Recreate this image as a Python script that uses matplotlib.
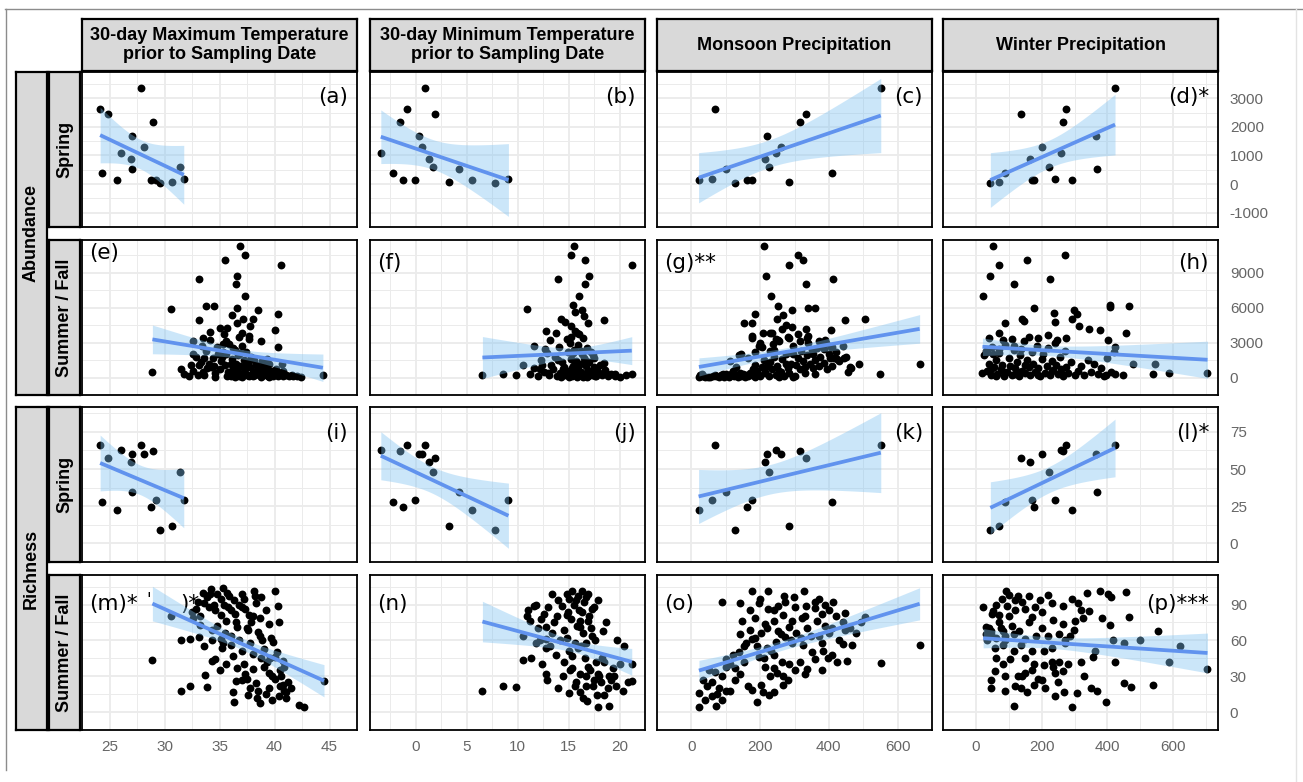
import numpy as np
import matplotlib
matplotlib.use("Agg")
import matplotlib.pyplot as plt
from matplotlib.lines import Line2D

# ---------------- data ----------------
# Spring observations (shared by all spring panels)
spring_maxT = [24.15, 24.86, 27.88, 28.93, 27.06, 28.15, 26.05, 26.97, 24.36, 25.64, 27.03, 28.76, 29.24, 29.58, 30.7, 31.44, 31.75]
spring_minT = [-0.84, 1.91, 0.89, -1.49, 0.35, 0.59, -3.42, 1.30, -2.19, 5.48, 4.29, -1.2, -0.02, 7.78, 3.27, 1.71, 9.1]
spring_monsoon = [69.5, 334, 551, 315, 221, 259.5, 245, 214, 409, 21, 100, 162, 176, 126, 284, 226, 59]
spring_winter = [272.5, 137.6, 423, 265.7, 364, 200.6, 257.6, 163, 90, 290.7, 368.6, 176.4, 172, 44, 69, 221, 240.5]
spring_abund = [2636, 2455, 3367, 2188, 1680, 1285, 1095, 860, 391, 140, 545, 145, 145, 30, 80, 590, 168]
spring_rich = [66.1, 57.1, 66.4, 62.4, 60.3, 60.1, 63.1, 54.4, 27.5, 22.6, 34.5, 24.4, 29.4, 8.7, 11.7, 48.0, 29.4]

# Summer / Fall panels: (x, y) pairs
summer_abund_maxT = [
    (36.9, 11330), (37.3, 10530), (35.5, 10080), (40.6, 9620), (33.1, 8470), (36.6, 8740), (36.5, 8020), (37.3, 7000),
    (30.6, 5880), (33.8, 6150), (34.5, 6120), (36.6, 5990), (36.1, 5400), (38.5, 5800), (40.3, 5480), (33.1, 4920),
    (37.1, 5000), (38.0, 5000), (34.1, 3930), (35.0, 4250), (35.7, 4250), (36.6, 4650), (37.8, 4460), (37.0, 3790),
    (40.0, 4060), (33.5, 3390), (37.7, 3530), (38.8, 3130), (32.6, 3130), (35.6, 3130), (40.3, 2590), (28.9, 510),
    (31.5, 720), (32.4, 1040), (32.6, 2060), (33.6, 1660), (33.1, 1070), (33.9, 850), (44.4, 190), (42.4, 50),
    (41.7, 110), (40.7, 1120), (40.8, 590),
    (31.8, 300), (32.2, 150), (32.6, 600), (33.0, 250), (33.3, 1300), (33.5, 450), (33.8, 2300), (34.0, 1200),
    (34.2, 900), (34.4, 1700), (34.6, 350), (34.8, 2600), (35.0, 700), (35.1, 1400), (35.3, 2200), (35.5, 1100),
    (34.5, 1000), (35.2, 1800), (35.4, 3700), (33.6, 200), (34.6, 80), (32.9, 1800), (33.4, 2700), (34.1, 3200),
    (34.9, 2000), (35.3, 2900),
    (35.6, 2000), (35.8, 500), (35.9, 2900), (36.0, 90), (36.1, 1600), (36.2, 800), (36.3, 300), (36.4, 2400),
    (36.5, 1200), (36.6, 600), (36.7, 1900), (36.8, 150), (36.9, 1000), (37.0, 2700), (37.1, 400), (37.2, 1500),
    (37.3, 700), (37.4, 2200), (37.5, 250), (37.6, 1300), (37.7, 100), (37.8, 900), (37.9, 1800), (38.0, 450),
    (38.1, 1500), (38.2, 200), (38.3, 1100), (38.4, 650), (36.2, 2500), (37.7, 3300), (36.8, 3500), (36.4, 50),
    (35.7, 150), (37.0, 60), (38.0, 120), (36.0, 1200), (36.6, 300), (37.2, 500), (37.6, 200), (38.3, 400),
    (36.9, 2100), (37.4, 1100),
    (38.5, 900), (38.6, 350), (38.7, 700), (38.8, 80), (38.9, 500), (39.0, 1000), (39.1, 300), (39.2, 500),
    (39.3, 700), (39.4, 150), (39.5, 1200), (39.6, 400), (39.7, 250), (39.8, 600), (39.9, 100), (40.0, 450),
    (40.2, 300), (40.4, 200), (40.6, 350), (40.8, 150), (41.0, 250), (41.3, 100), (41.6, 250), (42.0, 120),
    (39.0, 200), (39.5, 60), (40.3, 90), (40.1, 700), (39.3, 1600), (38.9, 1400),
]

summer_abund_minT = [
    (15.58, 11330), (15.26, 10530), (16.57, 10080), (21.2, 9620), (14.0, 8470), (17.0, 8740), (16.6, 8020), (16.07, 7000),
    (10.94, 5880), (15.46, 6200), (15.66, 5610), (16.3, 5800), (16.5, 5260), (18.5, 4940), (14.23, 5000), (14.64, 4730),
    (15.26, 4460), (16.9, 4680), (12.8, 3980), (13.2, 3260), (13.8, 3790), (15.87, 3790), (16.4, 3390), (11.6, 2730),
    (10.5, 1070), (6.55, 190), (8.57, 270), (9.84, 190), (21.2, 270), (19.56, 320), (18.5, 1260), (17.5, 1710),
    (12.7, 2460), (12.4, 1070),
    (11.2, 300), (11.6, 800), (12.0, 150), (12.3, 1500), (12.6, 500), (12.9, 2100), (13.1, 250), (13.3, 1100),
    (13.5, 700), (13.7, 1800), (13.9, 120), (14.1, 2600), (14.2, 400), (14.4, 1300), (14.6, 900), (14.7, 200),
    (14.9, 2200), (15.0, 600), (15.1, 3000), (15.2, 1600), (15.3, 100), (15.4, 1000), (15.5, 2400), (15.6, 350),
    (15.7, 1400), (15.8, 750), (15.9, 2800), (16.0, 180), (16.1, 1200), (16.2, 500), (16.3, 2000), (16.4, 80),
    (16.5, 1700), (16.6, 300), (16.7, 950), (16.8, 2500), (16.9, 150), (17.0, 1300), (17.1, 600), (17.2, 2200),
    (17.3, 250), (17.5, 900), (17.7, 100), (17.9, 450), (18.1, 1100), (18.3, 200), (18.6, 650), (18.9, 120),
    (19.2, 300), (19.6, 150), (20.0, 80), (15.2, 3500), (15.6, 4000), (14.8, 3300), (16.0, 3700), (15.0, 50),
    (15.8, 60), (16.8, 70), (14.3, 60), (17.6, 90), (13.0, 400), (14.0, 1500), (16.2, 2300), (17.4, 1900),
    (15.4, 2100), (16.6, 1500), (14.5, 700), (15.9, 900), (17.8, 600), (18.8, 300), (12.2, 700), (20.6, 200),
    (14.9, 350), (15.3, 800), (16.1, 450), (16.9, 600), (15.6, 1100), (14.4, 250), (17.2, 350), (15.9, 150),
]

summer_abund_monsoon = [
    (211, 11330), (309, 10530), (326, 10080), (284, 9620), (218, 8740), (411, 8470), (333, 8020), (232, 7000),
    (252, 6150), (292, 5800), (339, 5930), (359, 5930), (184, 5450), (267, 5400), (249, 5000), (154, 4680),
    (175, 4680), (275, 4520), (294, 4330), (447, 4920), (504, 5000), (407, 4120), (333, 4200), (175, 3530),
    (208, 3790), (235, 3790), (197, 2730), (238, 2860), (251, 3210), (283, 3390), (316, 3130), (337, 3390),
    (370, 3130), (393, 2990), (386, 2460), (410, 2590), (143, 2060), (111, 1390), (138, 1920), (165, 1660),
    (353, 2060), (402, 1660), (424, 1600), (445, 1660), (456, 510), (488, 1120), (550, 270), (664, 1180),
    (465, 850),
    (22, 50), (28, 120), (35, 110), (40, 20), (48, 50), (55, 30), (62, 130), (68, 200), (73, 110), (80, 40),
    (87, 190), (93, 300), (100, 270), (106, 90), (110, 80), (116, 320), (122, 180), (125, 100), (130, 250),
    (135, 60), (140, 400), (145, 150), (150, 300), (25, 190), (30, 270), (95, 60), (155, 80), (160, 220),
    (165, 120), (170, 350), (120, 600), (130, 900),
    (175, 200), (180, 700), (185, 1100), (190, 600), (195, 300), (200, 150), (205, 900), (210, 1500),
    (215, 400), (220, 1000), (225, 100), (230, 1300), (235, 700), (240, 1800), (245, 250), (250, 1000),
    (255, 600), (260, 500), (265, 1600), (270, 150), (275, 1200), (280, 800), (285, 350), (290, 1200),
    (295, 2000), (300, 100), (185, 2200), (205, 2600), (240, 2400), (255, 3100), (275, 2000), (295, 2700),
    (215, 500), (255, 50), (185, 80), (295, 60), (200, 3000), (230, 2300),
    (305, 1100), (310, 1700), (315, 700), (320, 2300), (325, 1400), (330, 900), (335, 1900), (340, 3000),
    (345, 1150), (350, 2400), (355, 800), (360, 1500), (365, 2500), (370, 950), (375, 1800), (380, 2800),
    (385, 1250), (390, 3200), (395, 700), (400, 2000), (405, 2600), (410, 1000), (415, 1650), (420, 2200),
    (430, 1400), (440, 2700), (450, 1750), (460, 900), (310, 3700), (340, 3600), (280, 3500), (265, 4200),
    (245, 3300), (230, 3800), (175, 3400), (330, 400), (360, 300),
]

summer_abund_winter = [
    (52, 11330), (70, 9620), (44, 8740), (156, 10080), (270, 10530), (115, 8020), (226, 8470), (22, 7000),
    (178, 5930), (90, 4700), (140, 5050), (147, 4860), (238, 5530), (298, 5800), (307, 5450), (407, 6070),
    (409, 6200), (464, 6120), (241, 4730), (291, 5050), (313, 4460), (343, 4200), (378, 4060), (456, 3850),
    (401, 3260), (424, 2590), (218, 3660), (190, 3390), (247, 3260), (275, 3390), (81, 3260), (70, 2460),
    (35, 2190), (53, 2060), (115, 2730), (138, 2460), (479, 1120), (544, 1120), (587, 370), (704, 370),
    (538, 270), (447, 190), (424, 320), (395, 190),
    (25, 1900), (30, 2300), (35, 600), (40, 1200), (45, 200), (50, 2600), (55, 900), (60, 1500),
    (65, 300), (70, 2100), (75, 700), (80, 1100), (85, 150), (90, 2800), (95, 500), (100, 1700),
    (105, 1000), (110, 250), (115, 2400), (120, 800), (125, 1300), (130, 100), (135, 1900), (140, 600),
    (145, 3100), (150, 350), (155, 1500), (160, 900), (165, 200), (170, 2200), (175, 1200), (180, 450),
    (185, 2700), (190, 800), (195, 150), (200, 1600), (205, 2000), (210, 400), (215, 1000), (220, 2500),
    (225, 250), (230, 1400), (235, 650), (240, 3000), (245, 1100), (250, 300), (255, 1800), (260, 700),
    (265, 150), (270, 2300), (275, 900), (280, 400), (290, 1300), (300, 200), (310, 600), (320, 1000),
    (330, 250), (340, 1500), (350, 500), (360, 1200), (370, 300), (380, 800), (390, 150), (400, 1700),
    (410, 450), (420, 2200), (40, 3400), (70, 3800), (110, 3300), (160, 3500), (60, 150), (20, 400),
    (45, 700), (85, 450), (120, 300), (150, 1100), (190, 250), (230, 600), (260, 350), (130, 500),
]

summer_rich_maxT = [
    (28.9, 43.3), (30.6, 80.7), (31.5, 60.1), (32.3, 61.4), (33.1, 62.6), (31.5, 18.0), (32.3, 22.2), (33.9, 21.2),
    (33.7, 30.9), (34.1, 98.5), (35.7, 99.7), (38.1, 101), (40.0, 101), (40.4, 75.0), (40.3, 89.1), (36.3, 8.1),
    (36.2, 16.8), (37.0, 26.7), (37.8, 20.5), (42.2, 5.7), (42.7, 4.4), (44.5, 26.2), (40.0, 46.5), (40.8, 42.8),
    (40.5, 35.4), (40.4, 13.1), (41.0, 16.8), (40.8, 23.0), (40.0, 27.9), (39.5, 32.9), (38.3, 24.2), (37.3, 31.7),
    (36.6, 36.6), (35.6, 40.3), (34.6, 44.0), (34.3, 42.8), (35.2, 53.9), (36.0, 56.4), (37.0, 51.5), (38.0, 49.0),
    (39.0, 52.7), (39.9, 58.9), (38.7, 63.8), (37.6, 68.8), (36.6, 71.3), (35.6, 76.2), (35.1, 81.1), (33.6, 91.1),
    (32.9, 86.1), (32.6, 78.7), (34.3, 68.8), (33.2, 72.5), (37.3, 86.1), (38.3, 91.1), (38.8, 96.0), (36.3, 93.5),
    (35.1, 94.8), (37.0, 98.5), (37.7, 81.1), (38.7, 78.7), (39.5, 73.7), (36.0, 63.8), (35.1, 61.4), (33.6, 55.2),
    (34.3, 60.1),
    (36.0, 85), (37.0, 88), (38.0, 80), (36.5, 75), (37.5, 70), (38.5, 67), (35.5, 66), (36.8, 60), (37.8, 58),
    (38.8, 45), (36.2, 47), (37.2, 40), (38.0, 36), (39.0, 38), (37.5, 28), (38.5, 18), (39.5, 20), (36.8, 90),
    (35.8, 88), (37.2, 95), (38.2, 97), (39.2, 85), (34.8, 72), (35.3, 58), (39.7, 62), (40.2, 50), (40.6, 30),
    (41.2, 25), (40.9, 18), (41.5, 20), (34.5, 90), (35.9, 97), (36.4, 82), (37.9, 75), (38.9, 60), (39.3, 42),
    (35.0, 35), (36.5, 26), (37.6, 14), (38.4, 12), (39.8, 10),
    (33.5, 100), (34.2, 103), (34.8, 99), (35.3, 104), (33.9, 96), (33.0, 92), (34.0, 88), (32.5, 84),
    (33.2, 80), (34.6, 85), (35.4, 90), (39.8, 30), (40.5, 22), (41.0, 12), (39.2, 15), (38.7, 8),
    (39.6, 45), (40.9, 38),
]

summer_rich_minT = [
    (6.55, 18.0), (8.57, 22.2), (9.84, 21.3), (10.5, 43.3), (11.35, 45.3), (10.9, 80.7), (11.6, 88.6), (11.2, 76.2),
    (12.8, 71.2), (13.4, 98.5), (14.0, 93.5), (15.3, 101), (16.3, 101), (17.9, 93.5), (21.2, 40.3), (21.2, 26.2),
    (19.7, 21.7), (18.5, 14.3), (17.9, 4.4), (19.0, 4.9), (16.8, 9.4), (16.1, 16.8), (15.0, 15.6), (14.0, 20.5),
    (12.9, 26.7), (12.8, 31.7), (12.4, 40.3), (11.8, 57.6), (10.5, 63.8), (12.8, 61.4), (14.2, 60.1), (14.6, 41.5),
    (15.3, 36.6), (16.1, 31.7), (16.9, 37.8), (17.7, 41.5), (18.5, 41.5), (19.4, 36.6), (19.0, 30.4), (17.5, 26.7),
    (16.7, 21.7), (15.7, 25.5), (15.05, 51.4), (15.9, 53.9), (16.7, 57.6), (17.3, 63.8), (14.6, 68.8), (16.1, 71.2),
    (16.9, 76.2), (14.8, 81.1), (16.3, 83.6), (17.3, 86.1), (14.4, 88.6), (15.7, 93.5), (16.7, 96.0), (14.8, 98.5),
    (13.4, 66.3), (12.8, 53.9), (12.2, 60.1),
    (15.0, 95), (15.5, 90), (16.0, 85), (16.5, 92), (17.0, 80), (15.2, 78), (15.8, 72), (16.4, 66), (17.2, 70),
    (14.8, 62), (15.6, 58), (16.2, 55), (17.6, 60), (15.3, 47), (16.6, 45), (17.1, 35), (18.0, 30), (18.2, 25),
    (17.8, 14), (16.4, 12), (15.6, 22), (14.5, 30), (13.8, 48), (13.2, 55), (16.9, 99), (15.9, 97), (14.9, 84),
    (17.5, 88), (16.1, 76), (18.3, 45), (19.2, 27), (20.3, 18), (16.7, 30), (15.1, 35), (17.4, 22),
    (11.0, 85), (11.8, 90), (12.3, 78), (12.0, 70), (12.6, 82), (13.0, 88), (13.6, 75), (13.9, 80),
    (19.5, 30), (20.0, 40), (20.8, 25), (18.9, 20), (17.9, 32),
    (19.8, 60), (18.7, 75), (20.4, 55), (18.4, 68),
]

summer_rich_monsoon = [
    (22, 4.4), (22, 15.6), (33, 26.7), (44, 21.7), (59, 13.1), (73, 5.2), (70, 33.6), (89, 30.4),
    (80, 19.8), (100, 17.3), (113, 17.5), (113, 40.3), (100, 37.8), (127, 36.6), (127, 26.7), (141, 32.1),
    (152, 41.5), (138, 50.2), (152, 55.2), (175, 61.4), (165, 21.7), (175, 18.8), (192, 8.1), (202, 23.0),
    (208, 16.8), (227, 14.3), (240, 16.8), (267, 23.0), (89, 91.8), (141, 91.1), (146, 76.2), (175, 101),
    (224, 101), (329, 101), (411, 92.3), (447, 83.1), (494, 75.0), (504, 79.2), (447, 68.3), (467, 55.9),
    (440, 56.9), (400, 66.3), (397, 45.3), (424, 42.0), (454, 42.8), (380, 35.4), (335, 36.1), (316, 41.5),
    (283, 40.3), (384, 51.4), (553, 40.8), (664, 55.9), (267, 30.4), (240, 36.6), (213, 37.8), (197, 46.5),
    (219, 53.9), (246, 58.9), (272, 62.6), (305, 66.3), (337, 70.0), (364, 76.2), (380, 82.4), (359, 87.3),
    (332, 88.6), (299, 96.0), (272, 92.3), (251, 88.6), (224, 86.1), (197, 91.1), (186, 78.7), (213, 73.7),
    (240, 76.2), (267, 81.1), (294, 76.2), (321, 78.7), (283, 71.2), (251, 67.5), (202, 66.3), (170, 68.8),
    (294, 57.6), (326, 56.4), (348, 63.8), (370, 63.8), (231, 51.4),
    (200, 95), (240, 85), (270, 97), (300, 88), (330, 80), (360, 92), (390, 72), (220, 70), (260, 65),
    (290, 60), (320, 62), (350, 50), (380, 58), (410, 48), (190, 55), (210, 45), (240, 48), (265, 42),
    (300, 35), (330, 32), (360, 44), (250, 33), (280, 27), (230, 30), (185, 62), (160, 58), (140, 65),
    (120, 48), (100, 44), (170, 85),
    (420, 80), (440, 75), (460, 70), (480, 66), (400, 85), (430, 60), (410, 70), (390, 90), (370, 95),
    (40, 10), (60, 25), (50, 35), (75, 15), (90, 10),
]

summer_rich_winter = [
    (22, 88.1), (115, 5.2), (292, 4.4), (395, 8.1), (449, 24.2), (472, 21.3), (538, 23.0), (587, 42.0),
    (704, 36.1), (553, 68.0), (464, 79.4), (456, 100.2), (378, 101), (338, 99.7), (412, 96.0), (401, 98.5),
    (369, 18.0), (350, 20.5), (241, 13.1), (267, 16.8), (307, 15.6), (330, 30.4), (319, 41.5), (355, 46.5),
    (361, 51.4), (424, 41.5), (418, 60.1), (407, 72.5), (382, 78.7), (327, 78.7), (344, 84.9), (310, 91.1),
    (292, 94.8), (264, 88.6), (230, 91.1), (195, 93.5), (161, 97.2), (127, 97.2), (92, 101), (53, 84.9),
    (70, 81.1), (95, 88.6), (120, 93.5), (150, 86.1), (172, 79.9), (201, 83.6), (235, 77.4), (264, 73.7),
    (298, 68.8), (252, 65.1), (218, 63.8), (184, 63.8), (150, 61.4), (115, 65.1), (81, 67.5), (47, 65.1),
    (30, 71.3), (58, 53.9), (81, 56.4), (115, 51.4), (138, 56.4), (104, 44.0), (81, 40.3), (58, 34.1),
    (47, 26.7), (45, 20.5), (87, 18.0), (138, 20.5), (155, 16.8), (178, 23.0), (201, 26.7), (127, 30.4),
    (150, 32.9), (178, 40.3), (207, 39.1), (235, 37.8), (252, 41.5), (264, 34.1), (241, 32.9), (281, 40.3),
    (172, 51.4), (207, 51.4), (230, 53.9), (270, 57.6), (287, 63.8),
    (60, 90), (80, 95), (100, 80), (120, 85), (140, 92), (160, 75), (180, 88), (200, 70), (110, 72),
    (130, 68), (90, 60), (70, 75), (150, 45), (170, 35), (190, 28), (210, 20), (230, 42), (250, 25),
    (270, 60), (300, 76), (320, 85), (140, 30), (120, 22), (90, 30), (60, 45), (40, 70), (35, 60),
    (50, 82), (100, 98), (220, 98),
    (30, 65), (45, 68), (60, 62), (75, 70), (90, 64), (500, 60), (450, 58), (620, 55),
]

col_titles = ["30-day Maximum Temperature\nprior to Sampling Date",
              "30-day Minimum Temperature\nprior to Sampling Date",
              "Monsoon Precipitation", "Winter Precipitation"]
response_labels = ["Abundance", "Richness"]
season_labels = ["Spring", "Summer / Fall", "Spring", "Summer / Fall"]
panel_tags = [["(a)", "(b)", "(c)", "(d)*"],
              ["(e)", "(f)", "(g)**", "(h)"],
              ["(i)", "(j)", "(k)", "(l)*"],
              ["(m)*", "(n)", "(o)", "(p)***"]]
tag_side = [["r", "r", "r", "r"], ["l", "l", "l", "r"], ["r", "r", "r", "r"], ["l", "l", "l", "r"]]
# partly hidden second tag fragments in panel (m)
hidden_tag_parts = ["'", ")*"]

x_ticks = [[25, 30, 35, 40, 45], [0, 5, 10, 15, 20], [0, 200, 400, 600], [0, 200, 400, 600]]
y_ticks = [[-1000, 0, 1000, 2000, 3000], [0, 3000, 6000, 9000], [0, 25, 50, 75], [0, 30, 60, 90]]

# ---------------- layout (pixels) ----------------
W, H = 1303, 782
col_left = [82, 370, 657, 943]
col_w = 275
row_top = [72, 240, 407, 575]
row_h = 155
xlims = [(23.23, 45.56), (-4.48, 22.34), (-8, 695), (-11, 736)]
ylims = [(-1327, 3919), (-537, 11807), (-6.5, 91.7), (-0.5, 114.7)]


def rect(x0, y0, w, h):
    return [x0 / W, 1 - (y0 + h) / H, w / W, h / H]


def tquant(df):
    z = 1.959964
    return (z + (z ** 3 + z) / (4 * df) + (5 * z ** 5 + 16 * z ** 3 + 3 * z) / (96 * df ** 2)
            + (3 * z ** 7 + 19 * z ** 5 + 17 * z ** 3 - 15 * z) / (384 * df ** 3))


spring_x = [spring_maxT, spring_minT, spring_monsoon, spring_winter]
summer_abund = [summer_abund_maxT, summer_abund_minT, summer_abund_monsoon, summer_abund_winter]
summer_rich = [summer_rich_maxT, summer_rich_minT, summer_rich_monsoon, summer_rich_winter]


def panel_data(r, c):
    if r == 0:
        return np.array(spring_x[c], float), np.array(spring_abund, float)
    if r == 2:
        return np.array(spring_x[c], float), np.array(spring_rich, float)
    pts = summer_abund[c] if r == 1 else summer_rich[c]
    a = np.array(pts, float)
    return a[:, 0], a[:, 1]


plt.rcParams["font.family"] = ["Liberation Sans", "DejaVu Sans"]
plt.rcParams["axes.unicode_minus"] = False
fig = plt.figure(figsize=(W / 100, H / 100), dpi=100)
fig.patch.set_facecolor("white")

# outer frame of the screenshot
fig.add_artist(Line2D([5 / W, 1], [1 - 9 / H, 1 - 9 / H], color="#8c8c8c", lw=1.0))
fig.add_artist(Line2D([5.5 / W, 5.5 / W], [1 - 9 / H, 1 - 770 / H], color="#8c8c8c", lw=1.0))
fig.add_artist(Line2D([1296 / W, 1296 / W], [1 - 9 / H, 0], color="#e3e3e3", lw=1.0))

tick_col = "#666666"
grid_col = "#ebebeb"

for r in range(4):
    for c in range(4):
        ax = fig.add_axes(rect(col_left[c], row_top[r], col_w, row_h))
        ax.set_facecolor("white")
        ax.set_xlim(*xlims[c])
        ax.set_ylim(*ylims[r])
        xt = x_ticks[c]
        yt = y_ticks[r]
        ax.set_xticks(xt)
        ax.set_yticks(yt)
        dx = xt[1] - xt[0]
        dy = yt[1] - yt[0]
        ax.set_xticks([v + dx / 2 for v in [xt[0] - dx] + xt], minor=True)
        ax.set_yticks([v + dy / 2 for v in [yt[0] - dy] + yt], minor=True)
        ax.grid(which="major", color=grid_col, lw=1.3)
        ax.grid(which="minor", color=grid_col, lw=0.7)
        ax.set_axisbelow(True)
        ax.tick_params(which="both", length=0)
        ax.yaxis.tick_right()
        if r == 3:
            ax.tick_params(axis="x", labelsize=11, labelcolor=tick_col, pad=7)
        else:
            ax.tick_params(axis="x", labelbottom=False)
        if c == 3:
            ax.tick_params(axis="y", labelsize=11, labelcolor=tick_col, pad=8.5, labelright=True)
        else:
            ax.tick_params(axis="y", labelright=False)
        for s in ax.spines.values():
            s.set_color("black")
            s.set_linewidth(1.3)

        x, y = panel_data(r, c)
        ax.scatter(x, y, s=32, color="black", linewidths=0, zorder=3)

        # linear fit with 95% confidence band (like geom_smooth(method = "lm"))
        n = len(x)
        xm = x.mean()
        sxx = ((x - xm) ** 2).sum()
        b = ((x - xm) * (y - y.mean())).sum() / sxx
        a0 = y.mean() - b * xm
        resid = y - (a0 + b * x)
        s = np.sqrt((resid ** 2).sum() / (n - 2))
        xs = np.linspace(x.min(), x.max(), 80)
        fit = a0 + b * xs
        se = s * np.sqrt(1 / n + (xs - xm) ** 2 / sxx)
        tq = tquant(n - 2)
        ax.fill_between(xs, fit - tq * se, fit + tq * se, color="#7fc2f2", alpha=0.4, lw=0, zorder=4)
        ax.plot(xs, fit, color="#6193ee", lw=2.7, zorder=5, solid_capstyle="butt")

        tag = panel_tags[r][c]
        dy_px = {0: 25, 1: 23, 2: 26, 3: 29}[r]
        if r == 1 and c == 0:
            dy_px = 13
        ty = 1 - dy_px / row_h
        if tag_side[r][c] == "r":
            ax.text(1 - 9 / col_w, ty, tag, transform=ax.transAxes, ha="right", va="center",
                    fontsize=15.5, family="DejaVu Sans", zorder=2)
        else:
            ax.text(7 / col_w, ty, tag, transform=ax.transAxes, ha="left", va="center",
                    fontsize=15.5, family="DejaVu Sans", zorder=2)
        if r == 3 and c == 0:
            ax.text(64 / col_w, ty + 4 / row_h, hidden_tag_parts[0], transform=ax.transAxes, ha="left",
                    va="center", fontsize=12, family="DejaVu Sans", zorder=1)
            ax.text(98 / col_w, ty, hidden_tag_parts[1], transform=ax.transAxes, ha="left",
                    va="center", fontsize=15.5, family="DejaVu Sans", zorder=1)


def strip(x0, y0, w, h, text, rot=0):
    sa = fig.add_axes(rect(x0, y0, w, h))
    sa.set_facecolor("#d9d9d9")
    sa.set_xticks([])
    sa.set_yticks([])
    for s in sa.spines.values():
        s.set_color("black")
        s.set_linewidth(1.6)
    sa.text(0.5, 0.5, text, rotation=rot, ha="center", va="center", fontsize=13,
            fontweight="bold", transform=sa.transAxes, linespacing=1.15)


for c in range(4):
    strip(col_left[c], 19, col_w, 52, col_titles[c])

for r in range(4):
    strip(49, row_top[r], 31, row_h, season_labels[r], rot=90)

strip(16, row_top[0], 31, row_top[1] + row_h - row_top[0], response_labels[0], rot=90)
strip(16, row_top[2], 31, row_top[3] + row_h - row_top[2], response_labels[1], rot=90)

fig.savefig("out.png", dpi=100, facecolor="white")
